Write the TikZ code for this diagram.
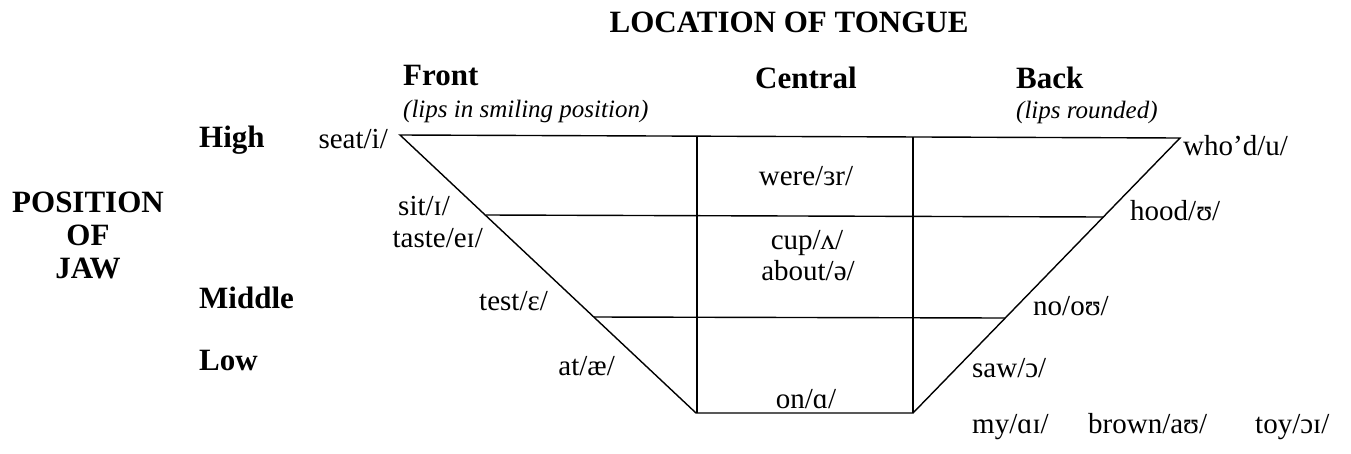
\documentclass[tikz,border=0pt]{standalone}
\usepackage{fontspec}
\setmainfont{Liberation Serif}
\begin{document}
\begin{tikzpicture}[x=1pt,y=-1pt,
  edge/.style={line width=1.4pt, black},
  lbl/.style={inner sep=0pt, font=\fontsize{29}{33}\selectfont},
  hdr/.style={inner sep=0pt, font=\fontsize{31}{34}\selectfont\bfseries},
  sub/.style={inner sep=0pt, font=\fontsize{25}{29}\selectfont\itshape}]
\useasboundingbox (0,0) rectangle (1351,453);
% corners of the chart
\coordinate (TL) at (400,135);
\coordinate (TR) at (1180,138);
\coordinate (BL) at (696,413);
\coordinate (BR) at (913,413);
\coordinate (CT1) at (697,136);
\coordinate (CT2) at (913,137);
\coordinate (L1) at (486,215);
\coordinate (R1) at (1103,217);
\coordinate (L2) at (594,317);
\coordinate (R2) at (1005,318);
\coordinate (C1B) at (697,413);
% outline
\draw[edge] (TL) -- (TR) -- (BR) -- (BL) -- cycle;
\draw[edge] (CT1) -- (C1B);
\draw[edge] (CT2) -- (BR);
\draw[edge] (L1) -- (R1);
\draw[edge] (L2) -- (R2);
% titles
\node[hdr, anchor=base] (title) at (789,32) {LOCATION OF TONGUE};
\node[hdr, align=center] (jaw) at (88,235) {POSITION\\[-1pt]OF\\[-1pt]JAW};
\node[hdr, anchor=base west] (front) at (403,85) {Front};
\node[sub, anchor=base west] (frontsub) at (403,117) {(lips in smiling position)};
\node[hdr, anchor=base west] (central) at (755,88) {Central};
\node[hdr, anchor=base west] (back) at (1016,88) {Back};
\node[sub, anchor=base west] (backsub) at (1016,118) {(lips rounded)};
\node[hdr, anchor=base west] (high) at (199,147) {High};
\node[hdr, anchor=base west] (middle) at (199,308) {Middle};
\node[hdr, anchor=base west] (low) at (199,370) {Low};
% front vowels
\node[lbl, anchor=base east] (seat) at (388,148) {seat/i/};
\node[lbl, anchor=base east] (sit) at (450,215) {sit/ɪ/};
\node[lbl, anchor=base east] (taste) at (483,247) {taste/eɪ/};
\node[lbl, anchor=base east] (test) at (548,310) {test/ɛ/};
\node[lbl, anchor=base east] (at) at (615,375) {at/æ/};
% central vowels
\node[lbl, anchor=base] (were) at (806,185) {were/ɜr/};
\node[lbl, anchor=base] (cup) at (807,249) {cup/ʌ/};
\node[lbl, anchor=base] (about) at (808,280) {about/ə/};
\node[lbl, anchor=base] (on) at (806,408) {on/ɑ/};
% back vowels
\node[lbl, anchor=base west] (whod) at (1183,155) {who’d/u/};
\node[lbl, anchor=base west] (hood) at (1130,220) {hood/ʊ/};
\node[lbl, anchor=base west] (no) at (1033,315) {no/oʊ/};
\node[lbl, anchor=base west] (saw) at (972,377) {saw/ɔ/};
% diphthongs
\node[lbl, anchor=base west] (my) at (972,433) {my/ɑɪ/};
\node[lbl, anchor=base west] (brown) at (1088,433) {brown/aʊ/};
\node[lbl, anchor=base west] (toy) at (1255,433) {toy/ɔɪ/};
\end{tikzpicture}
\end{document}
